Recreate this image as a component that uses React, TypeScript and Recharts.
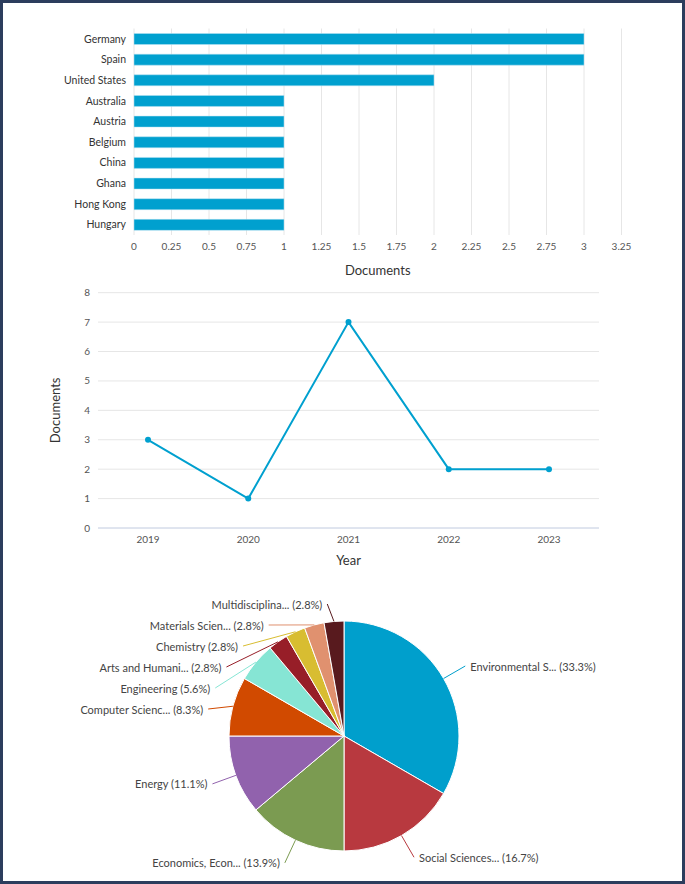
import React from "react"
import { Bar, BarChart, CartesianGrid, Cell, Line, LineChart, Pie, PieChart, XAxis, YAxis } from "recharts"

// documents by country
const countries = ["Germany", "Spain", "United States", "Australia", "Austria", "Belgium", "China", "Ghana", "Hong Kong", "Hungary"]
const countryDocs = [3, 3, 2, 1, 1, 1, 1, 1, 1, 1]
const countryTicks = [0, 0.25, 0.5, 0.75, 1, 1.25, 1.5, 1.75, 2, 2.25, 2.5, 2.75, 3, 3.25]

// documents by year
const years = ["2019", "2020", "2021", "2022", "2023"]
const yearDocs = [3, 1, 7, 2, 2]
const yearTicks = [0, 1, 2, 3, 4, 5, 6, 7, 8]

// documents by subject area
const areas = [
  "Environmental S...",
  "Social Sciences...",
  "Economics, Econ...",
  "Energy",
  "Computer Scienc...",
  "Engineering",
  "Arts and Humani...",
  "Chemistry",
  "Materials Scien...",
  "Multidisciplina...",
]
const areaDocs = [12, 6, 5, 4, 3, 2, 1, 1, 1, 1]
const areaColors = ["#009fcc", "#b8393f", "#7b9b51", "#9162ad", "#d14a00", "#86e5d4", "#971e28", "#d8bd31", "#e0916f", "#581a1e"]

const FONT = "Lato, 'Open Sans', sans-serif"
const BLUE = "#00a0cf"

const countryData = countries.map((c, i) => ({ country: c, docs: countryDocs[i] }))
const yearData = years.map((y, i) => ({ year: y, docs: yearDocs[i] }))
const areaData = areas.map((a, i) => ({ name: a, value: areaDocs[i] }))

const LABEL_GAP = 25
const LINE_H = 21

// highcharts-like label placement: stack labels per side so they don't collide
function layoutLabels(cx: number, cy: number, r: number) {
  const total = areaDocs.reduce((s, v) => s + v, 0)
  const R = r + LABEL_GAP
  let acc = 0
  const items = areaDocs.map((v, i) => {
    const mid = ((90 - ((acc + v / 2) / total) * 360) * Math.PI) / 180
    acc += v
    const cos = Math.cos(mid)
    const sin = Math.sin(mid)
    return {
      i,
      left: cos < 0,
      ex: cx + r * cos,
      ey: cy - r * sin,
      nx: cx + R * cos,
      ny: cy - R * sin,
      x: 0,
      y: 0,
    }
  })
  for (const side of [true, false]) {
    const group = items.filter((it) => it.left === side).sort((a, b) => a.ny - b.ny)
    let prev = cy - R + 8 - LINE_H
    for (const it of group) {
      it.y = Math.max(it.ny, prev + LINE_H)
      prev = it.y
      if (it.y !== it.ny) {
        const dy = Math.min(Math.abs(it.y - 7 - cy), R)
        const dx = Math.sqrt(R * R - dy * dy)
        it.x = side ? cx - dx : cx + dx
      } else {
        it.x = it.nx
      }
    }
  }
  return items
}

function AreaLabel(props: any) {
  const { cx, cy, outerRadius, index } = props
  const l = layoutLabels(cx, cy, outerRadius)[index]
  const total = areaDocs.reduce((s, v) => s + v, 0)
  const pct = ((areaDocs[index] / total) * 100).toFixed(1)
  return (
    <g>
      <path d={`M${l.ex},${l.ey}L${l.x},${l.y}`} stroke={areaColors[index]} strokeWidth={1} fill="none" />
      <text
        x={l.left ? l.x - 5 : l.x + 5}
        y={l.y}
        textAnchor={l.left ? "end" : "start"}
        dominantBaseline="central"
        fontSize={11}
        fontFamily={FONT}
        fill="#444"
      >
        {`${areas[index]} (${pct}%)`}
      </text>
    </g>
  )
}

export default function App() {
  return (
    <div
      style={{
        position: "absolute",
        top: 0,
        left: 0,
        width: 685,
        height: 884,
        boxSizing: "border-box",
        border: "3px solid #2c3d5d",
        background: "#fff",
        fontFamily: FONT,
      }}
    >
      <div style={{ position: "absolute", left: -3, top: -3 }}>
        <BarChart
          width={685}
          height={285}
          data={countryData}
          layout="vertical"
          margin={{ top: 28.5, right: 63.5, bottom: 0, left: 0 }}
          barSize={11}
        >
          <CartesianGrid horizontal={false} stroke="#e6e6e6" />
          <XAxis
            type="number"
            dataKey="docs"
            domain={[0, 3.25]}
            ticks={countryTicks}
            interval={0}
            tickLine={false}
            axisLine={false}
            height={50}
            tick={{ fontSize: 10, fill: "#555", fontFamily: FONT }}
            label={{ value: "Documents", position: "insideBottom", offset: 10, fontSize: 13, fill: "#333", fontFamily: FONT }}
          />
          <YAxis
            type="category"
            dataKey="country"
            width={134}
            tickLine={false}
            axisLine={false}
            interval={0}
            tick={{ fontSize: 10.5, fill: "#333", fontFamily: FONT }}
          />
          <Bar dataKey="docs" fill={BLUE} stroke="#b8e3f2" strokeWidth={0.5} isAnimationActive={false} />
        </BarChart>
      </div>

      <div style={{ position: "absolute", left: -3, top: 282 }}>
        <LineChart width={685} height={290} data={yearData} margin={{ top: 7.7, right: 86, bottom: 0, left: 0 }}>
          <CartesianGrid vertical={false} stroke="#e6e6e6" />
          <XAxis
            dataKey="year"
            padding={{ left: 50, right: 50 }}
            tickLine={false}
            axisLine={{ stroke: "#ccd6eb" }}
            height={47}
            tick={{ fontSize: 10, fill: "#555", fontFamily: FONT }}
            label={{ value: "Year", position: "insideBottom", offset: 10, fontSize: 13, fill: "#333", fontFamily: FONT }}
          />
          <YAxis
            domain={[0, 8]}
            ticks={yearTicks}
            interval={0}
            width={98}
            tickLine={false}
            axisLine={false}
            tick={{ fontSize: 10, fill: "#555", fontFamily: FONT }}
            label={{
              value: "Documents",
              angle: -90,
              position: "insideLeft",
              offset: 55,
              fontSize: 13,
              fill: "#333",
              fontFamily: FONT,
              style: { textAnchor: "middle" },
            }}
          />
          <Line
            dataKey="docs"
            stroke={BLUE}
            strokeWidth={2}
            dot={{ r: 3, fill: BLUE, stroke: BLUE, strokeWidth: 0 }}
            isAnimationActive={false}
          />
        </LineChart>
      </div>

      <div style={{ position: "absolute", left: -3, top: 572 }}>
        <PieChart width={685} height={309} margin={{ top: 0, right: 0, bottom: 0, left: 0 }}>
          <Pie
            data={areaData}
            dataKey="value"
            nameKey="name"
            cx={344}
            cy={161}
            outerRadius={115}
            startAngle={90}
            endAngle={-270}
            stroke="#fff"
            strokeWidth={1}
            label={AreaLabel}
            labelLine={false}
            isAnimationActive={false}
          >
            {areaData.map((d, i) => (
              <Cell key={d.name} fill={areaColors[i]} />
            ))}
          </Pie>
        </PieChart>
      </div>
    </div>
  )
}
